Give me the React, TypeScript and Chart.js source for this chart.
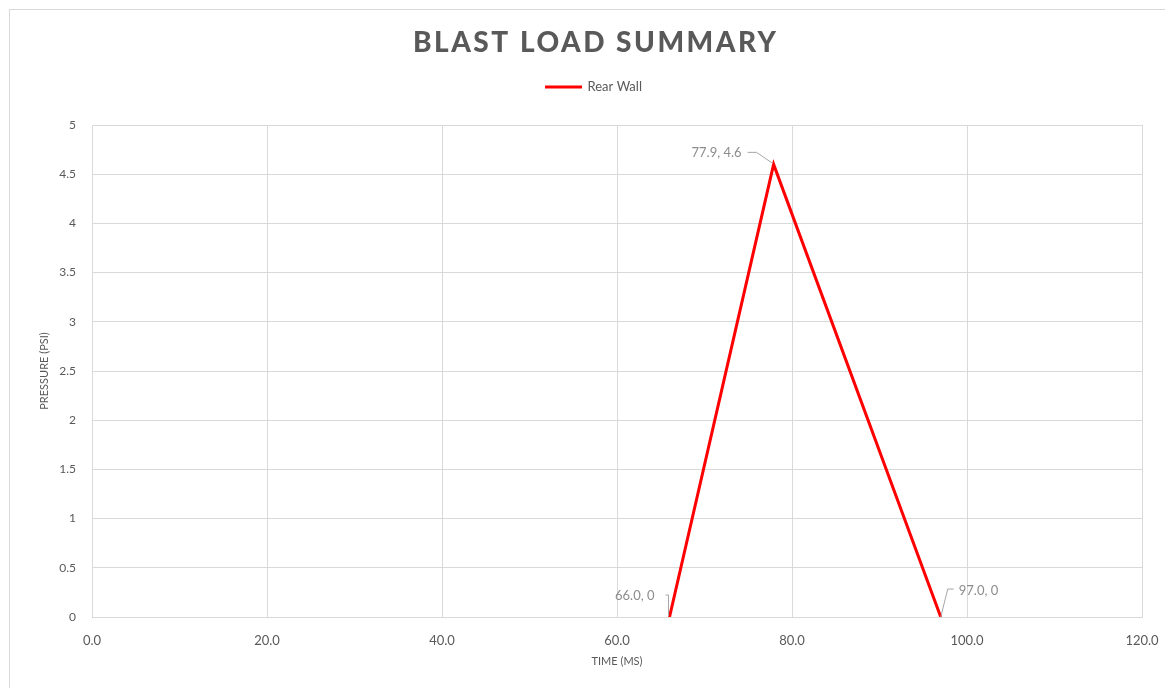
import React, { useEffect, useRef } from "react";
import { Chart, registerables } from "chart.js";

Chart.register(...registerables);

const chartTitle = "BLAST LOAD SUMMARY";
const seriesName = "Rear Wall";
const timeValues = [66.0, 77.9, 97.0];
const pressureValues = [0, 4.6, 0];
const xTicks = [0, 20, 40, 60, 80, 100, 120];
const yTicks = [0, 0.5, 1, 1.5, 2, 2.5, 3, 3.5, 4, 4.5, 5];
const xAxisTitle = "TIME (MS)";
const yAxisTitle = "PRESSURE (PSI)";

const GREY = "#595959";
const GRID = "#d9d9d9";

const titlePlugin = {
  id: "customTitle",
  afterDraw(chart: any, _args: any, opts: any) {
    const ctx = chart.ctx;
    ctx.save();
    ctx.font = opts.font;
    ctx.fillStyle = opts.color;
    ctx.textBaseline = "alphabetic";
    ctx.textAlign = "left";
    (ctx as any).letterSpacing = "0px";
    const natural = ctx.measureText(opts.text).width;
    const n = opts.text.length - 1;
    const spacing = Math.max(0, (opts.targetWidth - natural) / n);
    (ctx as any).letterSpacing = spacing + "px";
    const total = natural + spacing * n;
    ctx.fillText(opts.text, opts.cx - total / 2, opts.baseline);
    ctx.restore();
  },
};

const pointLabelPlugin = {
  id: "pointLabels",
  afterDatasetsDraw(chart: any, _args: any, opts: any) {
    const ctx = chart.ctx;
    const meta = chart.getDatasetMeta(0);
    const xs = chart.data.datasets[0].data;
    ctx.save();
    meta.data.forEach((pt: any, i: number) => {
      const place = opts.placements[i];
      if (!place) return;
      const d = xs[i];
      const text = `${d.x.toFixed(1)}, ${d.y}`;
      ctx.strokeStyle = opts.lineColor;
      ctx.lineWidth = 1;
      ctx.beginPath();
      place.leader.forEach((p: number[], k: number) => {
        const px = pt.x + p[0];
        const py = pt.y + p[1];
        if (k === 0) ctx.moveTo(px, py);
        else ctx.lineTo(px, py);
      });
      ctx.stroke();
      ctx.font = opts.font;
      ctx.fillStyle = opts.color;
      ctx.textBaseline = "middle";
      ctx.textAlign = place.align;
      ctx.fillText(text, pt.x + place.dx, pt.y + place.dy);
    });
    ctx.restore();
  },
};

export default function App() {
  const canvasRef = useRef<HTMLCanvasElement | null>(null);

  useEffect(() => {
    if (!canvasRef.current) return;
    const data = timeValues.map((x, i) => ({ x, y: pressureValues[i] }));
    const chart = new Chart(canvasRef.current, {
      type: "line",
      data: {
        datasets: [
          {
            label: seriesName,
            data,
            borderColor: "#ff0000",
            backgroundColor: "#ff0000",
            borderWidth: 3,
            pointRadius: 0,
            tension: 0,
          },
        ],
      },
      options: {
        animation: false,
        responsive: false,
        maintainAspectRatio: false,
        layout: { padding: { top: 70.5, left: 46, right: 23, bottom: 11 } },
        plugins: {
          title: { display: false },
          subtitle: {
            display: true,
            text: "",
            weight: 500,
            font: { size: 1, lineHeight: 1 },
            padding: { top: 0, bottom: 20.5 },
          },
          legend: {
            display: true,
            position: "top",
            labels: {
              boxWidth: 35,
              boxHeight: 1,
              padding: 10,
              color: GREY,
              font: { family: "Lato", size: 13 },
              generateLabels: (chart: any) => {
                const items = Chart.defaults.plugins.legend.labels.generateLabels(chart);
                return items.map((it: any) => ({ ...it, lineWidth: 2 }));
              },
            },
          },
          tooltip: { enabled: false },
          customTitle: {
            text: chartTitle,
            font: "900 28px Lato",
            color: GREY,
            cx: 594.5,
            baseline: 52,
            targetWidth: 363,
          },
          pointLabels: {
            font: "13px Lato",
            color: "#8c8c8c",
            lineColor: "#a6a6a6",
            placements: [
              { dx: -15, dy: -21, align: "right", leader: [[-4, -22], [-1, -22], [-1, -1]] },
              { dx: -32, dy: -12, align: "right", leader: [[-26, -12], [-17, -12], [-1, -1]] },
              { dx: 18, dy: -26, align: "left", leader: [[13, -28], [7, -28], [0, 0]] },
            ],
          },
        } as any,
        scales: {
          x: {
            type: "linear",
            min: xTicks[0],
            max: xTicks[xTicks.length - 1],
            afterBuildTicks: (scale: any) => {
              scale.ticks = xTicks.map((v) => ({ value: v }));
            },
            afterFit: (scale: any) => {
              scale.height = 60;
              scale.paddingLeft = 0;
              scale.paddingRight = 0;
            },
            ticks: {
              padding: 16,
              color: GREY,
              font: { family: "Lato", size: 13 },
              callback: (v: any) => Number(v).toFixed(1),
              maxRotation: 0,
            },
            grid: { color: GRID, lineWidth: 1, drawTicks: false },
            border: { display: true, color: GRID },
            title: {
              display: true,
              text: xAxisTitle,
              color: GREY,
              font: { family: "Lato", size: 11 },
              padding: { top: 4, bottom: 9.4 },
            },
          },
          y: {
            type: "linear",
            min: yTicks[0],
            max: yTicks[yTicks.length - 1],
            afterBuildTicks: (scale: any) => {
              scale.ticks = yTicks.map((v) => ({ value: v }));
            },
            afterFit: (scale: any) => {
              scale.width = 46;
            },
            ticks: {
              padding: 16,
              color: GREY,
              font: { family: "Lato", size: 12 },
              callback: (v: any) => String(v),
            },
            grid: { color: GRID, lineWidth: 1, drawTicks: false },
            border: { display: true, color: GRID },
            title: {
              display: true,
              text: yAxisTitle,
              color: GREY,
              font: { family: "Lato", size: 11 },
              padding: { top: -8.6, bottom: 0 },
            },
          },
        },
      },
      plugins: [titlePlugin, pointLabelPlugin],
    });
    return () => chart.destroy();
  }, []);

  return (
    <>
      <div
        style={{
          position: "fixed",
          left: 9,
          top: 9,
          width: 1400,
          height: 900,
          borderTop: "1px solid #d9d9d9",
          borderLeft: "1px solid #d9d9d9",
          boxSizing: "border-box",
        }}
      />
      <div style={{ position: "fixed", left: 0, top: 0, width: 1165, height: 688 }}>
        <canvas ref={canvasRef} width={1165} height={688} style={{ width: 1165, height: 688, display: "block" }} />
      </div>
    </>
  );
}
